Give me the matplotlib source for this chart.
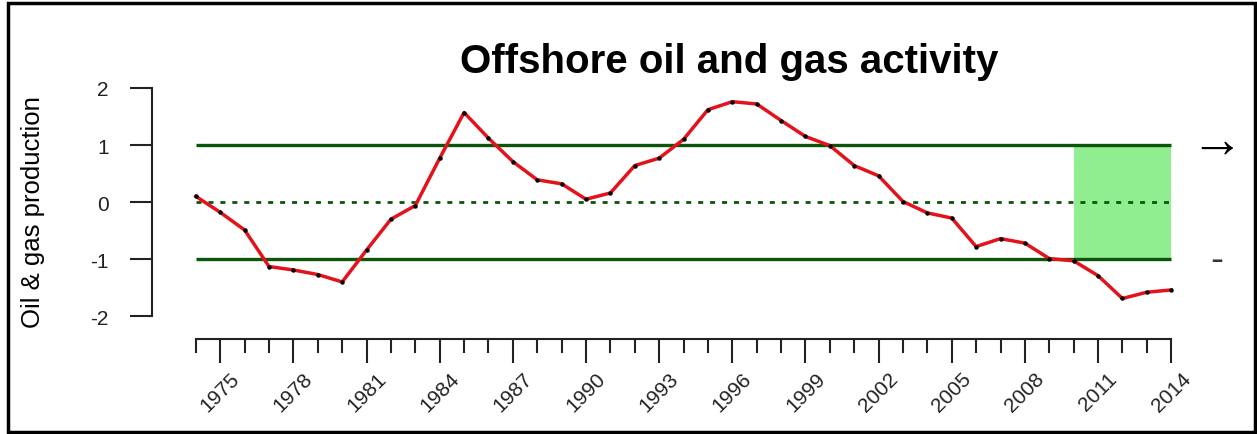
import numpy as np
import matplotlib
matplotlib.use('Agg')
import matplotlib.pyplot as plt
from matplotlib.patches import Rectangle

plt.rcParams['font.family'] = ['Liberation Sans', 'DejaVu Sans']

years = list(range(1974, 2015))
production = [0.10, -0.18, -0.49, -1.13, -1.19, -1.27, -1.40, -0.84, -0.30, -0.06,
              0.77, 1.57, 1.12, 0.71, 0.39, 0.32, 0.05, 0.16, 0.64, 0.77,
              1.10, 1.62, 1.76, 1.72, 1.43, 1.15, 0.99, 0.64, 0.46, 0.01,
              -0.19, -0.28, -0.78, -0.64, -0.72, -0.99, -1.03, -1.29, -1.69, -1.58,
              -1.54]
label_years = list(range(1975, 2015, 3))
y_ticks = [-2, -1, 0, 1, 2]
upper, mid, lower = 1, 0, -1
shade_start, shade_end = 2010, 2014

W, H = 1257, 435
fig = plt.figure(figsize=(W/100, H/100), dpi=100)
ax = fig.add_axes([152/W, (H-340)/H, (1209-152)/W, 270/H])
ax.set_xlim(1972.2, 2015.55)
ax.set_ylim(-2.4, 2.333)

dkgreen = '#0b560b'
ax.add_patch(Rectangle((shade_start, lower), shade_end-shade_start, upper-lower,
                       facecolor='#90ee90', edgecolor='none', zorder=1))
ax.hlines([upper, lower], years[0], years[-1], colors=dkgreen, lw=2.4, zorder=2)
ax.hlines(mid, years[0], years[-1], colors=dkgreen, lw=2.0,
          linestyles=(0, (1.8, 2.5)), zorder=2)
ax.plot(years, production, color='#e3131b', lw=2.5, zorder=3)
ax.plot(years, production, 'o', color='black', ms=2.2, zorder=4)

for s in ['top', 'right']:
    ax.spines[s].set_visible(False)
ax.spines['left'].set_bounds(-2, 2)
ax.spines['bottom'].set_bounds(years[0], years[-1])
for s in ['left', 'bottom']:
    ax.spines[s].set_linewidth(1.5)
    ax.spines[s].set_color('#222222')

ax.set_yticks(y_ticks)
ax.set_yticklabels([str(v) for v in y_ticks])
ax.tick_params(axis='y', length=16, width=1.5, pad=15, labelsize=15, colors='#222222')

ax.set_xticks(label_years)
ax.set_xticklabels([str(y) for y in label_years], rotation=45, ha='center', va='top')
ax.set_xticks([y for y in years if y not in label_years], minor=True)
ax.tick_params(axis='x', which='major', length=17, width=1.5, pad=4, labelsize=15,
               colors='#222222')
ax.tick_params(axis='x', which='minor', length=10, width=1.5, colors='#222222')

ax.text(2015.85, upper + 0.06, '\u2192', fontsize=38, ha='center', va='center',
        clip_on=False)
ax.text(2015.85, lower - 0.02, '-', fontsize=28, ha='center', va='center',
        color='#333333', clip_on=False)

fig.text(729/W, 1-73/H, 'Offshore oil and gas activity', fontsize=29, fontweight='bold',
         ha='center', va='baseline')
fig.text(33/W, 1-212/H, 'Oil & gas production', fontsize=18.5, rotation=90,
         ha='center', va='center')

fig.add_artist(Rectangle((8/W, 2/H), (1255-8)/W, (431-2)/H, transform=fig.transFigure,
                         fill=False, lw=2.5, edgecolor='black'))

fig.savefig('out.png', dpi=100)
